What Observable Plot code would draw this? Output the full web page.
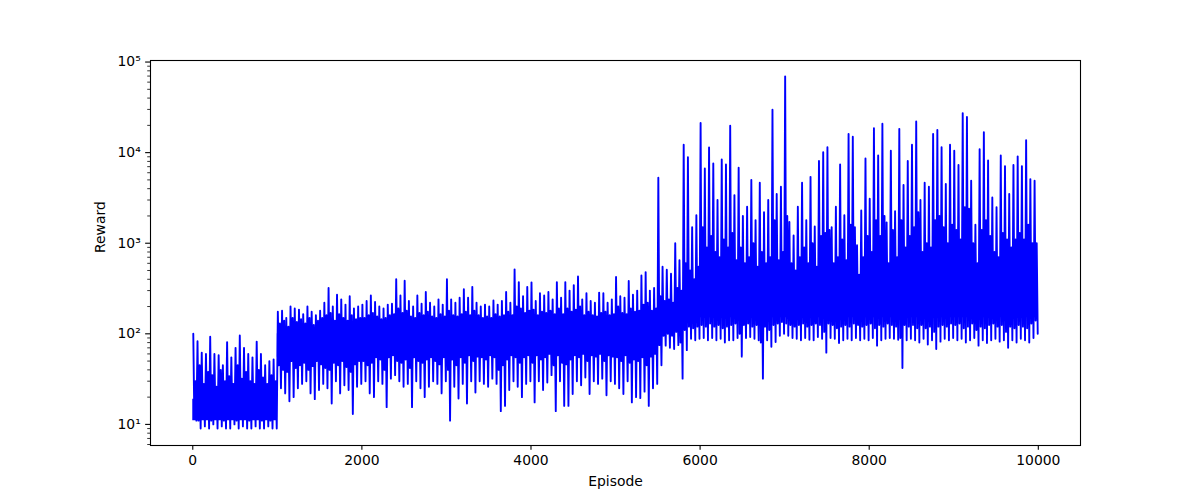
<!DOCTYPE html>
<html>
<head>
<meta charset="utf-8">
<script src="https://cdn.jsdelivr.net/npm/d3@7"></script>
<script src="https://cdn.jsdelivr.net/npm/@observablehq/plot@0.6"></script>
<style>
  html, body { margin: 0; padding: 0; background: #ffffff; }
  #chart { width: 1200px; height: 500px; }
</style>
</head>
<body>
<div id="chart"></div>
<script>
// Reward per episode, summarised per 50-episode block:
// the peak (high), the top of the dense band (upper), the bottom of the dense band (lower) and the trough (low)
const blockSize = 50;
const blockHigh = [
  100, 83, 62, 60, 93, 60, 58, 45, 81, 55, 70, 96, 70, 60, 55, 82, 60, 45, 50, 52,
  175, 180, 150, 200, 190, 185, 165, 200, 175, 160, 180, 220, 320, 200, 270, 240, 210, 260, 190, 200,
  210, 230, 265, 225, 200, 190, 210, 215, 400, 265, 385, 230, 200, 265, 215, 290, 220, 200, 240, 210,
  400, 240, 220, 250, 310, 250, 330, 220, 200, 210, 200, 233, 210, 230, 290, 220, 515, 372, 260, 330,
  370, 230, 280, 265, 290, 240, 372, 250, 372, 300, 345, 430, 240, 280, 230, 220, 285, 280, 220, 240,
  425, 260, 250, 383, 270, 300, 440, 480, 300, 320, 5280, 550, 510, 460, 1000, 650, 12200, 8900, 1500, 2040,
  21200, 6700, 11400, 7600, 3000, 8400, 7400, 19800, 3400, 6800, 2000, 2530, 5000, 1800, 4650, 2200, 3000, 29700, 3500, 4200,
  69500, 1720, 1220, 2530, 4650, 1800, 5400, 1530, 8100, 10100, 11500, 1500, 2530, 7400, 2040, 16100, 15000, 950, 2300, 8600,
  3100, 18600, 9300, 20800, 1700, 10500, 2250, 18300, 4400, 8100, 12200, 22100, 3000, 4650, 4200, 16100, 17800, 11500, 4500, 12200,
  10500, 7300, 27300, 24700, 4900, 1600, 10900, 16800, 8200, 3200, 2500, 9300, 7100, 3500, 7300, 9100, 7100, 13700, 5100, 4900
];
const blockUpper = [
  30, 45, 28, 38, 35, 26, 40, 30, 34, 28, 45, 32, 38, 30, 28, 40, 33, 28, 35, 30,
  130, 140, 120, 150, 135, 145, 130, 150, 125, 140, 150, 160, 170, 140, 165, 150, 140, 160, 145, 150,
  150, 160, 170, 155, 145, 150, 160, 165, 190, 170, 180, 155, 150, 170, 160, 175, 155, 150, 165, 155,
  180, 160, 155, 165, 175, 160, 180, 160, 150, 155, 150, 165, 155, 160, 175, 160, 200, 190, 170, 180,
  185, 160, 175, 170, 180, 165, 190, 165, 190, 175, 185, 200, 160, 175, 160, 155, 170, 175, 160, 165,
  200, 170, 165, 190, 175, 180, 210, 220, 180, 190, 260, 230, 240, 220, 320, 300, 600, 500, 400, 550,
  1500, 900, 1200, 800, 700, 1100, 900, 1300, 650, 900, 600, 700, 1000, 550, 800, 600, 700, 1800, 650, 800,
  2000, 600, 500, 700, 900, 600, 1000, 550, 1200, 1300, 1400, 600, 700, 1100, 650, 1600, 1500, 450, 700, 1200,
  800, 1800, 1200, 2000, 600, 1400, 700, 1800, 900, 1200, 1500, 2200, 800, 1000, 900, 1800, 2000, 1500, 1000, 1600,
  1400, 1100, 2500, 2400, 1000, 600, 1400, 1800, 1200, 800, 700, 1300, 1100, 900, 1100, 1300, 1100, 1600, 1000, 1000
];
const blockLower = [
  12, 11, 13, 12, 11, 12, 13, 11, 12, 12, 11, 13, 12, 11, 12, 13, 11, 12, 11, 12,
  45, 40, 38, 50, 42, 45, 48, 40, 44, 50, 46, 42, 40, 48, 45, 50, 43, 38, 46, 50,
  50, 45, 48, 55, 52, 40, 55, 58, 50, 48, 52, 42, 55, 50, 48, 52, 55, 50, 46, 55,
  40, 52, 45, 55, 48, 58, 50, 56, 55, 52, 58, 55, 40, 45, 52, 58, 55, 48, 55, 58,
  48, 58, 52, 55, 60, 45, 58, 48, 46, 52, 58, 55, 60, 50, 58, 56, 60, 50, 58, 56,
  55, 50, 58, 48, 52, 50, 55, 45, 56, 60, 75, 95, 100, 95, 105, 80, 110, 120, 115, 120,
  125, 120, 130, 120, 125, 115, 120, 125, 130, 100, 125, 130, 120, 125, 80, 120, 110, 125, 130, 135,
  130, 125, 120, 125, 130, 120, 125, 130, 125, 105, 130, 125, 115, 120, 125, 120, 130, 125, 120, 125,
  130, 115, 125, 120, 130, 125, 120, 90, 125, 120, 125, 115, 125, 115, 120, 105, 120, 125, 120, 130,
  125, 130, 115, 120, 130, 110, 120, 115, 125, 130, 120, 125, 105, 120, 115, 125, 120, 115, 130, 140
];
const blockLow = [
  11, 9, 9.5, 9, 10, 9, 9.5, 9, 9, 10, 9, 9.5, 9, 9, 9.5, 9, 9, 9.5, 9, 9,
  25, 22, 18, 20, 25, 28, 30, 22, 19, 24, 28, 25, 17, 30, 22, 27, 24, 13, 26, 28,
  30, 22, 20, 30, 28, 15.5, 32, 35, 30, 26, 28, 15.5, 30, 25, 20, 26, 30, 28, 22, 30,
  11, 26, 19.3, 28, 17, 30, 22.5, 30, 28, 26, 32, 28, 14, 16, 24, 30, 26, 20, 28, 30,
  17.5, 30, 24, 29, 35, 14, 30, 16, 16, 21.6, 30, 27, 33, 21.6, 30, 28, 32, 21, 30, 28,
  25, 21.6, 30, 17.5, 20, 19.5, 23, 16, 25, 28, 45, 74, 70, 68, 75, 32, 66, 88, 85, 88,
  90, 85, 90, 85, 88, 80, 85, 85, 90, 56, 90, 92, 88, 85, 32, 85, 72, 81, 95, 100,
  95, 90, 88, 85, 90, 86, 85, 92, 88, 62, 90, 88, 79, 85, 88, 85, 90, 85, 88, 85,
  90, 74, 85, 88, 90, 88, 86, 42, 85, 88, 85, 80, 88, 76, 85, 68, 82, 88, 85, 90,
  85, 88, 80, 85, 90, 74, 85, 79, 85, 88, 82, 85, 70, 85, 80, 88, 85, 80, 90, 100
];
// Solid heart of the trace, per 250-episode block
const coreSize = 250;
const coreLow = [
  11, 11, 11, 11, 55, 58, 60, 60, 62, 64,
  64, 66, 68, 70, 70, 72, 72, 70, 70, 72,
  70, 72, 110, 150, 150, 150, 150, 150, 150, 150,
  150, 150, 150, 150, 150, 150, 150, 150, 150, 150
];
const coreHigh = [
  19, 19, 19, 19, 100, 105, 110, 110, 115, 118,
  118, 120, 122, 125, 125, 130, 130, 132, 130, 130,
  132, 140, 160, 300, 420, 420, 420, 420, 420, 420,
  420, 420, 450, 450, 450, 450, 450, 450, 450, 450
];
const xTicks = [0, 2000, 4000, 6000, 8000, 10000];
const yTicks = [10, 100, 1000, 10000, 100000];
const yTickLabels = ["10\u00B9", "10\u00B2", "10\u00B3", "10\u2074", "10\u2075"];
const xLabel = "Episode";
const yLabel = "Reward";

// Build tables
const trace = [];
blockHigh.forEach((h, i) => {
  const start = i * blockSize;
  trace.push({episode: start + 6, reward: h});
  trace.push({episode: start + 18, reward: blockLower[i]});
  trace.push({episode: start + 31, reward: blockUpper[i]});
  trace.push({episode: start + 43, reward: blockLow[i]});
});
const core = coreLow.map((lo, i) => ({episode: i * coreSize, low: lo, high: coreHigh[i]}));
core.push({episode: coreLow.length * coreSize - 10, low: coreLow[coreLow.length - 1], high: coreHigh[coreHigh.length - 1]});

const minorTicks = [6, 7, 8, 9];
[10, 100, 1000, 10000].forEach(dec => {
  for (let k = 2; k <= 9; k++) minorTicks.push(k * dec);
});

const chart = Plot.plot({
  width: 1200,
  height: 500,
  marginLeft: 150,
  marginRight: 120,
  marginTop: 60,
  marginBottom: 55,
  style: {fontFamily: "DejaVu Sans", fontSize: "13.9px", background: "#ffffff", color: "#000000", overflow: "visible"},
  x: {domain: [-500, 10499]},
  y: {type: "log", domain: [5.85, 1.04e5]},
  marks: [
    Plot.areaY(core, {x: "episode", y1: "low", y2: "high", curve: "step-after", fill: "#0000ff"}),
    Plot.lineY(trace, {x: "episode", y: "reward", stroke: "#0000ff", strokeWidth: 1.9}),
    Plot.axisX({ticks: xTicks, tickFormat: d => String(d), tickSize: 4.86, tickPadding: 4.86, label: null, strokeWidth: 1.1}),
    Plot.axisY({ticks: yTicks, tickFormat: d => yTickLabels[yTicks.indexOf(d)], tickSize: 4.86, tickPadding: 4.86, label: null, strokeWidth: 1.1}),
    Plot.axisY({ticks: minorTicks, tickSize: 2.78, text: null, label: null, strokeWidth: 0.8}),
    Plot.frame({stroke: "#000000", strokeWidth: 1.1}),
    Plot.text([xLabel], {frameAnchor: "bottom", dy: 36, lineAnchor: "middle", text: d => d, fill: "#000000"}),
    Plot.text([yLabel], {frameAnchor: "left", dx: -50, rotate: -90, lineAnchor: "middle", text: d => d, fill: "#000000"})
  ]
});
document.getElementById("chart").appendChild(chart);
</script>
</body>
</html>
